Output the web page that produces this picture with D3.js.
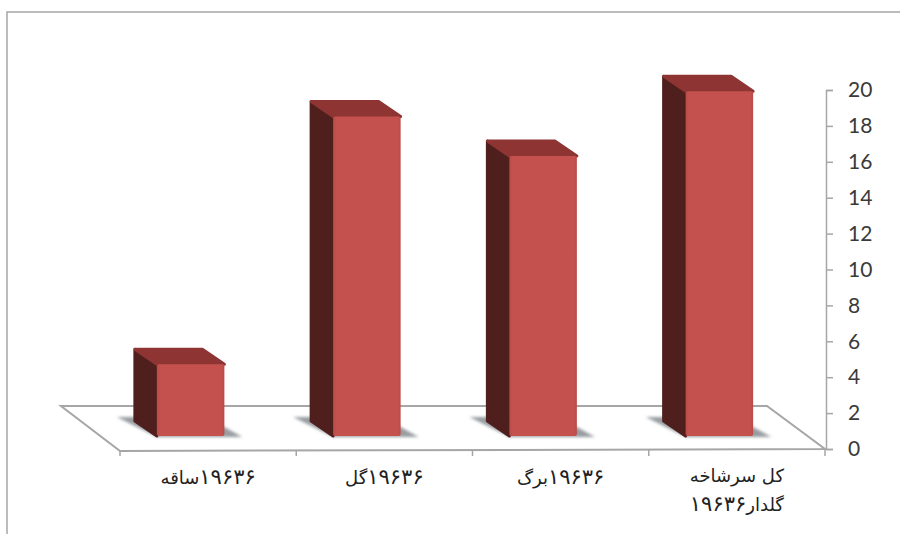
<!DOCTYPE html>
<html>
<head>
<meta charset="utf-8">
<script src="https://d3js.org/d3.v7.min.js"></script>
<style>
  html, body { margin: 0; padding: 0; background: #fff; }
  svg { display: block; }
</style>
</head>
<body>
<script>
var categories = ["۱۹۶۳۶ساقه", "۱۹۶۳۶گل", "۱۹۶۳۶برگ", "کل سرشاخه|گلدار۱۹۶۳۶"];
var values = [4.0, 17.8, 15.6, 19.2];
var yTicks = [0, 2, 4, 6, 8, 10, 12, 14, 16, 18, 20];

function loadChart(){
  var wx = 900, hy = 534;

  var canvas = d3.select("body").append("svg")
      .attr("width", wx)
      .attr("height", hy);

  var y = d3.scaleLinear().domain([0, 20]).range([449, 90]);
  var x = d3.scaleBand().domain(categories).range([120, 825])
      .paddingInner(0.617).paddingOuter(0.3085);

  // shift of the bars off the front edge, and the box depth
  var inX = -17.5, inY = -13;
  var depthX = -22, depthY = -15;

  var defs = canvas.append("defs");

  var blur = defs.append("filter").attr("id", "soft")
      .attr("x", "-20%").attr("y", "-40%").attr("width", "140%").attr("height", "180%");
  blur.append("feGaussianBlur").attr("stdDeviation", 1.8);

  var front = defs.append("linearGradient").attr("id", "frontFace")
      .attr("x1", 0).attr("x2", 1).attr("y1", 0).attr("y2", 0);
  front.append("stop").attr("offset", 0).attr("stop-color", "#b94d49");
  front.append("stop").attr("offset", 0.05).attr("stop-color", "#c4514e");
  front.append("stop").attr("offset", 0.96).attr("stop-color", "#c4514e");
  front.append("stop").attr("offset", 1).attr("stop-color", "#b84a47");

  // outer frame, open on the right and at the bottom
  canvas.append("path")
      .attr("d", d3.line()([[7, 534], [7, 12], [900, 12]]))
      .attr("fill", "none")
      .attr("stroke", "#a6a6a6")
      .attr("stroke-width", 1.5);

  // floor of the chart
  var floor = [[61, 406], [767, 406], [825, 449], [120, 451]];
  canvas.append("path")
      .attr("d", d3.line()(floor) + "Z")
      .attr("fill", "#fff")
      .attr("stroke", "#a6a6a6")
      .attr("stroke-width", 2);

  // category ticks along the front edge
  canvas.selectAll(".xTick").data(d3.range(5)).enter().append("line")
      .attr("class", "xTick")
      .attr("x1", function(i){ return 120 + i * x.step(); })
      .attr("x2", function(i){ return 120 + i * x.step(); })
      .attr("y1", 450)
      .attr("y2", 456)
      .attr("stroke", "#a6a6a6")
      .attr("stroke-width", 1.5);

  // value axis on the right
  var axis = d3.axisRight(y).tickValues(yTicks).tickSize(7).tickPadding(15);
  var gAxis = canvas.append("g")
      .attr("transform", "translate(826,0)")
      .call(axis);
  gAxis.select(".domain").attr("stroke", "#a6a6a6").attr("stroke-width", 1.5);
  gAxis.selectAll("line").attr("stroke", "#a6a6a6").attr("stroke-width", 1.5);
  gAxis.selectAll("text")
      .attr("fill", "#3a3a3a")
      .style("font-family", "Lato, sans-serif")
      .style("font-size", "21px");

  var bars = canvas.selectAll(".bar").data(values).enter().append("g").attr("class", "bar");

  function left(i){ return x(categories[i]) + inX; }
  function base(){ return y(0) + inY; }
  function top(d){ return y(d) + inY; }

  // shadow lying on the floor
  bars.append("path")
      .attr("d", function(d, i){
        var l = left(i), r = l + x.bandwidth(), b = base();
        return d3.line()([[l - 40, b - 19], [l - 20, b - 19], [r, b - 9], [r + 18, b + 1], [l, b + 1]]) + "Z";
      })
      .attr("fill", "#989ca0")
      .attr("filter", "url(#soft)");

  // dark side face
  bars.append("path")
      .attr("d", function(d, i){
        var l = left(i), b = base(), t = top(d);
        return d3.line()([[l, t], [l, b], [l + depthX, b + depthY], [l + depthX, t + depthY]]) + "Z";
      })
      .attr("fill", "#4f1f1d")
      .attr("stroke", "#4f1f1d")
      .attr("stroke-linejoin", "round")
      .attr("stroke-width", 3);

  // top face
  bars.append("path")
      .attr("d", function(d, i){
        var l = left(i), r = l + x.bandwidth(), t = top(d);
        return d3.line()([[l, t], [r, t], [r + depthX, t + depthY], [l + depthX, t + depthY]]) + "Z";
      })
      .attr("fill", "#8e3533")
      .attr("stroke", "#8e3533")
      .attr("stroke-linejoin", "round")
      .attr("stroke-width", 3);

  // front face
  bars.append("rect")
      .attr("x", function(d, i){ return left(i); })
      .attr("y", function(d){ return top(d); })
      .attr("width", x.bandwidth())
      .attr("height", function(d){ return base() - top(d); })
      .attr("rx", 2)
      .attr("fill", "url(#frontFace)");

  // category labels, the long one on two lines; digits are larger and spaced out
  var labels = canvas.selectAll(".cat").data(categories).enter().append("text")
      .attr("class", "cat")
      .attr("text-anchor", "middle")
      .attr("direction", "rtl")
      .attr("fill", "#222")
      .style("font-family", "'DejaVu Sans', sans-serif")
      .style("font-size", "18px");

  labels.each(function(d){
    var lines = d.split("|");
    var cx = x(d) + x.bandwidth() / 2;
    var txt = d3.select(this);
    lines.forEach(function(s, j){
      var by = (lines.length > 1 ? 482 : 484) + j * 29;
      s.split(/([۰-۹]+)/).filter(Boolean).forEach(function(part, k){
        var span = txt.append("tspan").text(part);
        if (k === 0) span.attr("x", cx).attr("y", by);
        if (/[۰-۹]/.test(part)) {
          span.style("font-size", "21px").style("letter-spacing", "4px");
        }
      });
    });
  });
}
loadChart();
</script>
</body>
</html>
